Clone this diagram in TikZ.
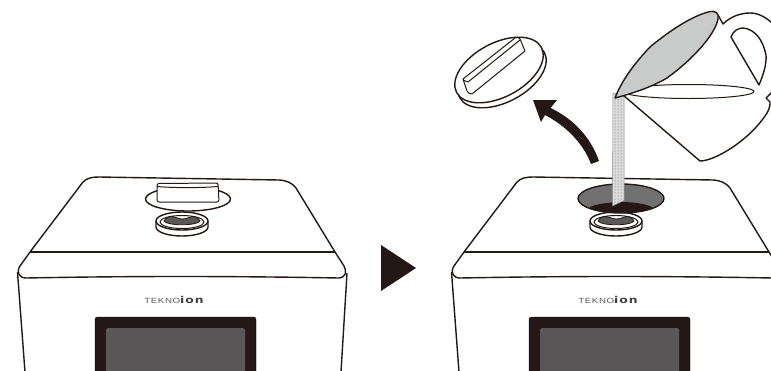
\documentclass[tikz,border=0pt]{standalone}
\usepackage{fontspec}
\setmainfont{Liberation Sans}
\newfontfamily\ionfont{DejaVu Sans}
\usetikzlibrary{patterns}
\definecolor{ink}{HTML}{231815}
\definecolor{scr}{HTML}{595757}
\definecolor{holegray}{HTML}{727171}
\definecolor{rimgray}{HTML}{C9CACA}
\tikzset{
  outl/.style={draw=ink,line width=1.4pt,line join=round},
  thin outl/.style={draw=ink,line width=1pt,line join=round},
  logo/.style={inner sep=0pt,anchor=center}
}
\newcommand{\machinebody}[1]{%
  \begin{scope}[xshift=#1]
    \draw[outl] (30,252) -- (83,182) .. controls (87,178) and (92,177) .. (99,177)
      -- (279,180) .. controls (287,180.5) and (292,183) .. (296,188)
      -- (335,252) -- (344,266) .. controls (347,272) and (346,277) .. (339,278)
      .. controls (230,276) and (130,276) .. (26,278)
      .. controls (19,278) and (16,272) .. (20,266) -- cycle;
    \draw[outl] (30,252) -- (335,252);
    \draw[outl] (17.5,272) -- (25,372);
    \draw[outl] (347,273) -- (341,372);
    \draw[fill=ink,rounded corners=2.5pt] (95,373) -- (95,317) -- (256,317) -- (256,373) -- cycle;
    \draw[draw=none,fill=scr,rounded corners=1.5pt] (106,373) -- (106,328) -- (245,328) -- (245,373) -- cycle;
    \node[logo] (logo#1) at (174,299.5) {\scalebox{1.3}[1]{\fontsize{7.5}{8}\selectfont\textcolor{black!65}{\addfontfeature{LetterSpace=6}TEKNO}\ionfont\bfseries\fontsize{9.5}{9}\selectfont\textcolor{black!75}{\addfontfeature{LetterSpace=8}ion}}};
    % knob
    \draw[outl,fill=white] (156,221) -- (156,227) arc[start angle=180,end angle=0,x radius=26,y radius=9] -- (208,221);
    \draw[outl,fill=white] (182,221) ellipse[x radius=26,y radius=9];
    \draw[thin outl] (182,222) ellipse[x radius=22,y radius=6.5];
    \fill[scr,draw=ink,line width=.8pt] (164,221) .. controls (166,216.5) and (172,215.5) .. (176,217.5)
      .. controls (180,219.5) and (185,219.5) .. (189,217.5)
      .. controls (193,215.5) and (198,216.5) .. (200,221)
      .. controls (197,226) and (167,226) .. (164,221) -- cycle;
  \end{scope}}
\begin{document}
\begin{tikzpicture}[x=1pt,y=-1pt]
\useasboundingbox (0,0) rectangle (771,370);
\clip (0,0) rectangle (771,370);
\machinebody{0pt}
\machinebody{434pt}
% closed lid on left machine
\draw[outl,fill=white] (188,199) ellipse[x radius=42.5,y radius=12];
\draw[thin outl,fill=white,rounded corners=2pt] (157,183.5) -- (218,183) -- (219,202) -- (157,202) -- cycle;
\draw[thin outl] (157,186.5) .. controls (175,188) and (200,188) .. (218,186.5);
% hole on right machine
\draw[outl,fill=holegray] (621,198.5) ellipse[x radius=43,y radius=14.5];
\begin{scope}
  \clip (621,198.5) ellipse[x radius=43,y radius=14.5];
  \fill[ink] (590,207) .. controls (600,202) and (635,199) .. (652,207) -- (652,216) -- (590,216) -- cycle;
\end{scope}
% triangle
\fill[ink] (381,245) -- (416,268) -- (381,291) -- cycle;
% stream
\path[fill=black!14] (613,93) -- (624,93) -- (624,200.5) -- (612.5,206) -- cycle;
\path[pattern=dots,pattern color=black!60] (613,93) -- (624,93) -- (624,200.5) -- (612.5,206) -- cycle;
\draw[draw=black!45,line width=.5pt] (613,93) -- (624,93) -- (624,200.5) -- (612.5,206) -- cycle;
% jug
\draw[outl,fill=white] (623,95) -- (700,161) .. controls (715,161) and (750,140) .. (767,113)
  .. controls (770,108) and (770,104) .. (770,102) -- (766,98) -- (772,92);
\draw[outl] (718,15) -- (723,24) .. controls (730,17) and (740,13) .. (750,13)
  .. controls (758,13) and (766,17) .. (773,24);
\draw[outl] (731,37) .. controls (733,31) and (738,28) .. (743,28)
  .. controls (755,29) and (763,40) .. (766,55)
  .. controls (767,65) and (762,78) .. (759,85) -- cycle;
\draw[thin outl,fill=white] (688.5,91.5) ellipse[x radius=65.5,y radius=7];
\draw[outl,fill=rimgray] (615,98) .. controls (620,85) and (630,68) .. (650,47)
  .. controls (668,32) and (690,17) .. (708,12)
  .. controls (716,10) and (719,13) .. (718,19)
  .. controls (715,35) and (692,60) .. (667,78)
  .. controls (650,88) and (630,94) .. (615,98) -- cycle;
% cap
\draw[outl,fill=white,rotate around={28:(502,75)}] (502,75) ellipse[x radius=48,y radius=27];
\draw[outl,fill=white,rotate around={28:(499,70)}] (499,70) ellipse[x radius=48,y radius=27];
\draw[thin outl,fill=white,line join=round] (463,79) -- (515,38) .. controls (517,36.5) and (519,37) .. (520,39)
  -- (525,51) -- (472,94) .. controls (470,94) and (468,93) .. (467,91) -- cycle;
\draw[thin outl] (463,80) -- (468,82) -- (520,40);
% curved arrow
\fill[ink] (533,100) -- (557,100) -- (550.5,108)
  .. controls (574,119) and (591,138) .. (599,161) -- (591,164)
  .. controls (583,143) and (566,126) .. (545,115) -- (541,122) -- cycle;
\end{tikzpicture}
\end{document}
